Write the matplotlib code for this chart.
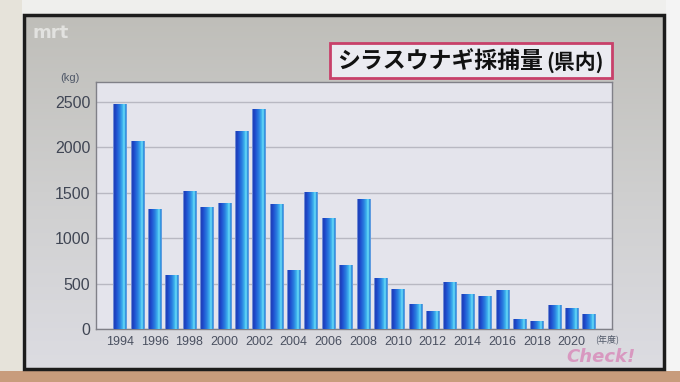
import numpy as np
import matplotlib
matplotlib.use('Agg')
import matplotlib.pyplot as plt
from matplotlib import font_manager
from matplotlib.patches import Rectangle
from matplotlib.colors import LinearSegmentedColormap

# ---------------- data ----------------
years = list(range(1994, 2022))
catch_kg = [2470, 2060, 1320, 590, 1510, 1335, 1380, 2170, 2420, 1370,
            640, 1500, 1215, 695, 1425, 555, 430, 265, 190, 510,
            375, 360, 420, 110, 80, 255, 230, 165]
xtick_years = list(range(1994, 2021, 2))
yticks = [0, 500, 1000, 1500, 2000, 2500]
title_main = 'シラスウナギ採捕量'
title_sub = '(県内)'
y_unit = '(kg)'
x_unit = '(年度)'

# ---------------- fonts ----------------
names = {f.name for f in font_manager.fontManager.ttflist}
if 'Liberation Sans Narrow' in names:
    num_font = dict(family='Liberation Sans Narrow')
    ysize, xsize = 13, 10.5
else:
    num_font = dict(family='Liberation Sans')
    ysize, xsize = 11.5, 9
cjk = ['Noto Sans CJK JP', 'DejaVu Sans']

W, H = 680, 382
fig = plt.figure(figsize=(W / 100, H / 100), dpi=100)

# ---------------- background (TV screen) ----------------
bg = fig.add_axes([0, 0, 1, 1], zorder=0)
bg.set_xlim(0, W)
bg.set_ylim(H, 0)
bg.axis('off')
bg.add_patch(Rectangle((0, 0), W, H, facecolor='#efefed', edgecolor='none'))
bg.add_patch(Rectangle((0, 371), W, 11, facecolor='#c89c7c', edgecolor='none'))
bg.add_patch(Rectangle((0, 0), 22, 371, facecolor='#e6e3da', edgecolor='none'))
bg.add_patch(Rectangle((666, 0), 14, 371, facecolor='#f4f4f4', edgecolor='none'))
grad_v = np.linspace(0, 1, 256).reshape(-1, 1)
screen_cmap = LinearSegmentedColormap.from_list('scr', ['#bfbeb9', '#cfcfcf', '#dcdce2'])
bg.imshow(grad_v, extent=[24, 664, 369, 15], cmap=screen_cmap, aspect='auto', zorder=1)
bg.add_patch(Rectangle((24, 15), 640, 354, facecolor='none', edgecolor='#1c1c1c', lw=2.5, zorder=2))
bg.set_xlim(0, W)
bg.set_ylim(H, 0)

# logo
bg.text(33, 33, 'mrt', fontsize=13, fontweight='bold', color='white', alpha=0.55,
        ha='left', va='center', family='DejaVu Sans', zorder=3)
# title box
bg.add_patch(Rectangle((330, 43), 282, 35, facecolor='#ebebf1', edgecolor='#c8406a',
                       lw=2, zorder=3))
bg.text(337, 61, title_main, fontsize=16.5, fontweight='bold', color='#111111',
        ha='left', va='center', family=cjk, zorder=4)
bg.text(546, 62, title_sub, fontsize=15, fontweight='bold', color='#111111',
        ha='left', va='center', family=cjk, zorder=4)
# units
bg.text(80, 78, y_unit, fontsize=8, color='#505868', ha='right', va='center',
        zorder=4, **num_font)
bg.text(607, 339, x_unit, fontsize=6.5, color='#505868', ha='center', va='center',
        family=cjk, zorder=5)
# watermark
bg.text(601, 357, 'Check!', fontsize=13, fontweight='bold', style='italic',
        color='#d898c0', ha='center', va='center', family='DejaVu Sans', zorder=4)

# ---------------- main chart ----------------
left, right, top, bottom = 96, 612, 82, 329
ax = fig.add_axes([left / W, (H - bottom) / H, (right - left) / W, (bottom - top) / H], zorder=2)
ax.set_facecolor('#e4e4ec')

bars = ax.bar(years, catch_kg, width=0.76, color='#2a78dc', zorder=3)
bar_cmap = LinearSegmentedColormap.from_list('bar', [
    (0.0, '#b0c8ee'), (0.07, '#1a3ab4'), (0.25, '#2050d0'), (0.5, '#2a80e0'),
    (0.7, '#40b8f0'), (0.8, '#72e0f8'), (0.88, '#38a8e8'), (0.95, '#2070d0'),
    (1.0, '#a8c8ee')])
grad_h = np.linspace(0, 1, 64).reshape(1, -1)
for p in bars:
    x0, w, h = p.get_x(), p.get_width(), p.get_height()
    ax.imshow(grad_h, extent=[x0, x0 + w, 0, h], cmap=bar_cmap, aspect='auto',
              zorder=4, interpolation='bilinear')

ax.set_xlim(1992.62, 2022.32)
ax.set_ylim(0, 2720)
ax.set_yticks(yticks)
ax.set_xticks(xtick_years)
ax.set_yticklabels([str(v) for v in yticks], fontsize=ysize, color='#404654', **num_font)
ax.set_xticklabels([str(v) for v in xtick_years], fontsize=xsize, color='#4a5060', **num_font)
ax.tick_params(axis='both', length=0)
ax.tick_params(axis='y', pad=4)
ax.tick_params(axis='x', pad=5)
ax.grid(axis='y', color='#b8b8c2', lw=1, zorder=1)
ax.set_axisbelow(True)
for s in ax.spines.values():
    s.set_color('#808088')
    s.set_linewidth(1)

fig.savefig('out.png', dpi=100)
